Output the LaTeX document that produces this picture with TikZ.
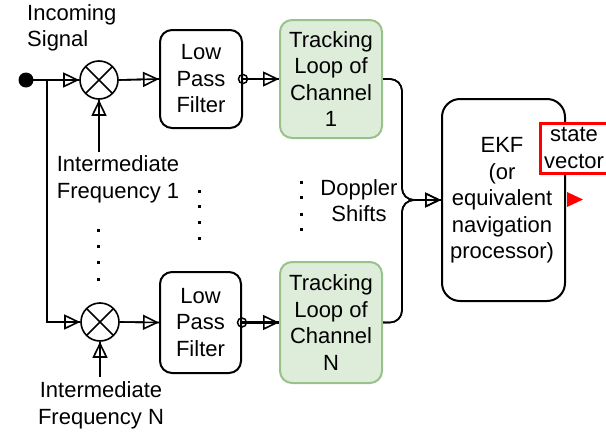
\documentclass[tikz,border=0pt]{standalone}
\usepackage{fontspec}
\setmainfont{Liberation Sans}
\usetikzlibrary{arrows.meta}
\definecolor{tlfill}{HTML}{DDEDDA}
\definecolor{tlline}{HTML}{97C38A}
\tikzset{
  txt/.style={font=\fontsize{22}{26.5}\selectfont, align=center, inner sep=0pt},
  box/.style={draw, line width=2pt, rounded corners=12pt, inner sep=0pt},
  tlbox/.style={box, draw=tlline, fill=tlfill},
  mixer/.style={draw, circle, line width=1.6pt, minimum size=38pt, inner sep=0pt,
    path picture={\draw[line width=1.6pt] (path picture bounding box.north west) -- (path picture bounding box.south east)
      (path picture bounding box.north east) -- (path picture bounding box.south west);}},
  smallc/.style={draw, circle, line width=1.5pt, minimum size=9pt, inner sep=0pt},
  arr/.style={-{Triangle[open, length=16pt, width=15pt, line width=1.6pt]}, postaction={draw, -}},
  thn/.style={line width=1.6pt},
  thk/.style={line width=2.8pt}
}
\begin{document}
\begin{tikzpicture}[x=1pt, y=-1pt]
\useasboundingbox (0,0) rectangle (606,434);
% nodes
\node[circle, fill=black, minimum size=15pt, inner sep=0pt] (dot) at (26,80) {};
\coordinate (j1) at (47,80);
\node[mixer] (m1) at (99,80) {};
\node[mixer] (m2) at (100,322) {};
\node[box, minimum width=82pt, minimum height=98pt] (lpf1) at (201,79) {};
\node[txt] at (lpf1.center) {Low\\Pass\\Filter};
\node[box, minimum width=81pt, minimum height=101pt] (lpfN) at (200.5,322.5) {};
\node[txt] at (lpfN.center) {Low\\Pass\\Filter};
\node[tlbox, minimum width=102pt, minimum height=118pt] (tl1) at (331,79) {};
\node[txt] at (tl1.center) {Tracking\\Loop of\\Channel\\1};
\node[tlbox, minimum width=102pt, minimum height=121pt] (tlN) at (331,322.5) {};
\node[txt] at (tlN.center) {Tracking\\Loop of\\Channel\\N};
\node[box, rounded corners=18pt, minimum width=123pt, minimum height=202pt] (ekf) at (503.5,200) {};
\node[txt] at (502,200.5) {EKF\\(or\\equivalent\\navigation\\processor)};
\node[draw=red, fill=white, line width=3pt, minimum width=68pt, minimum height=50pt, inner sep=0pt] (sv) at (574,148) {};
\node[txt] at (sv.center) {state\\vector};
% labels
\node[txt, align=left, anchor=west] (inc) at (27,28) {Incoming\\Signal};
\node[txt] (if1) at (118,179.5) {Intermediate\\Frequency 1};
\node[txt] (ifN) at (101,405.5) {Intermediate\\Frequency N};
\node[txt] (dop) at (359,200.5) {Doppler\\Shifts};
\coordinate (if1s) at (99,152);
\coordinate (ifNs) at (100,377);
\coordinate (b1) at (402,200);
\coordinate (bN) at (402,200);
% connectors
\draw[thk, arr] (dot.center) -- (m1.west);
\draw[thk, arr] (j1) |- (m2.west);
\draw[thn, arr] (if1s) -- (m1.south);
\draw[thn, arr] (ifNs) -- (m2.south);
\draw[thn, arr] (m1.east) -- (lpf1.west);
\draw[thn, arr] (m2.east) -- (lpfN.west);
\draw[thk, arr] (lpf1.east) -- (tl1.west);
\draw[thk, arr] (lpfN.east) -- (tlN.west);
\node[smallc] (o1) at (lpf1.east) {};
\node[smallc] (oN) at (lpfN.east) {};
\draw[thn, arr, rounded corners=12pt] (tl1.east) -| (b1) -- (ekf.west);
\draw[thn, arr, rounded corners=12pt] (tlN.east) -| (bN) -- (ekf.west);
% red output arrow
\fill[red] (567,192) -- (583,199.5) -- (567,207) -- cycle;
% dots
\foreach \y in {191,206,222,238} \fill (197.5,\y-1.5) rectangle ++(3,3);
\foreach \y in {182,197,214,229} \fill (299.5,\y-1.5) rectangle ++(3,3);
\foreach \y in {230,246,262,279} \fill (96.5,\y-1.5) rectangle ++(3,3);
\end{tikzpicture}
\end{document}
